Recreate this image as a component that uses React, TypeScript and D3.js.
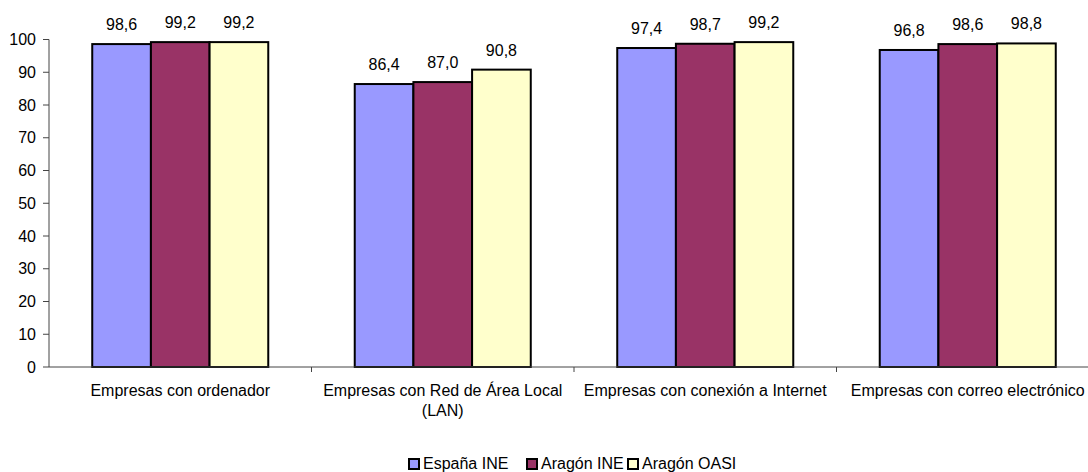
import React from "react";
import * as d3 from "d3";

const categories = [
  ["Empresas con ordenador"],
  ["Empresas con Red de Área Local", "(LAN)"],
  ["Empresas con conexión a Internet"],
  ["Empresas con correo electrónico"],
];
const seriesNames = ["España INE", "Aragón INE", "Aragón OASI"];
const espanaINE = [98.6, 86.4, 97.4, 96.8];
const aragonINE = [99.2, 87.0, 98.7, 98.6];
const aragonOASI = [99.2, 90.8, 99.2, 98.8];
const yTicks = [0, 10, 20, 30, 40, 50, 60, 70, 80, 90, 100];
const colors = ["#9999FF", "#993366", "#FFFFCC"];

const W = 1088;
const H = 472;
const FONT = "Arial, 'Liberation Sans', sans-serif";
const FS = 16;

export default function App() {
  const series = [espanaINE, aragonINE, aragonOASI];
  const x0 = d3
    .scaleBand<number>()
    .domain(d3.range(categories.length))
    .range([49, 1099])
    .padding(0);
  const x1 = d3
    .scaleBand<number>()
    .domain(d3.range(series.length))
    .range([0, x0.bandwidth()])
    .paddingInner(0)
    .paddingOuter(0.737);
  const y = d3.scaleLinear().domain([0, 100]).range([367, 39.5]);

  const fmt = (v: number) => v.toFixed(1).replace(".", ",");

  const legendItems = [
    { x: 409, tx: 423 },
    { x: 527, tx: 541 },
    { x: 628, tx: 642 },
  ];

  return (
    <div style={{ position: "fixed", left: 0, top: 0 }}>
      <svg width={W} height={H} style={{ display: "block", background: "#fff" }} fontFamily={FONT}>
        <line x1={49} x2={49} y1={y(100)} y2={y(0)} stroke="#444" strokeWidth={1} />
        {yTicks.map((t) => (
          <g key={t}>
            <line x1={43} x2={49} y1={y(t)} y2={y(t)} stroke="#444" strokeWidth={1} />
            <text x={36} y={y(t)} dy="0.35em" textAnchor="end" fontSize={FS} fill="#000">
              {t}
            </text>
          </g>
        ))}
        {categories.map((c, i) => (
          <g key={i} transform={`translate(${x0(i)},0)`}>
            {series.map((s, j) => (
              <rect
                key={j}
                x={x1(j)}
                y={y(s[i])}
                width={x1.bandwidth()}
                height={y(0) - y(s[i])}
                fill={colors[j]}
                stroke="#000"
                strokeWidth={2}
              />
            ))}
            {series.map((s, j) => (
              <text
                key={"l" + j}
                x={(x1(j) as number) + x1.bandwidth() / 2}
                y={y(s[i]) - 14}
                textAnchor="middle"
                fontSize={FS}
                fill="#000"
              >
                {fmt(s[i])}
              </text>
            ))}
          </g>
        ))}
        <line x1={49} x2={1099} y1={y(0)} y2={y(0)} stroke="#444" strokeWidth={1} />
        {categories.map((c, i) =>
          i > 0 ? (
            <line
              key={"t" + i}
              x1={x0(i)}
              x2={x0(i)}
              y1={y(0)}
              y2={y(0) + 5}
              stroke="#444"
              strokeWidth={1}
            />
          ) : null
        )}
        {categories.map((lines, i) => (
          <text
            key={"c" + i}
            x={(x0(i) as number) + x0.bandwidth() / 2}
            y={396}
            textAnchor="middle"
            fontSize={FS}
            fill="#000"
          >
            {lines.map((ln, k) => (
              <tspan key={k} x={(x0(i) as number) + x0.bandwidth() / 2} dy={k === 0 ? 0 : 20}>
                {ln}
              </tspan>
            ))}
          </text>
        ))}
        {seriesNames.map((n, j) => (
          <g key={n}>
            <rect
              x={legendItems[j].x}
              y={459}
              width={10}
              height={10}
              fill={colors[j]}
              stroke="#000"
              strokeWidth={2}
            />
            <text x={legendItems[j].tx} y={469} fontSize={FS} fill="#000">
              {n}
            </text>
          </g>
        ))}
      </svg>
    </div>
  );
}
